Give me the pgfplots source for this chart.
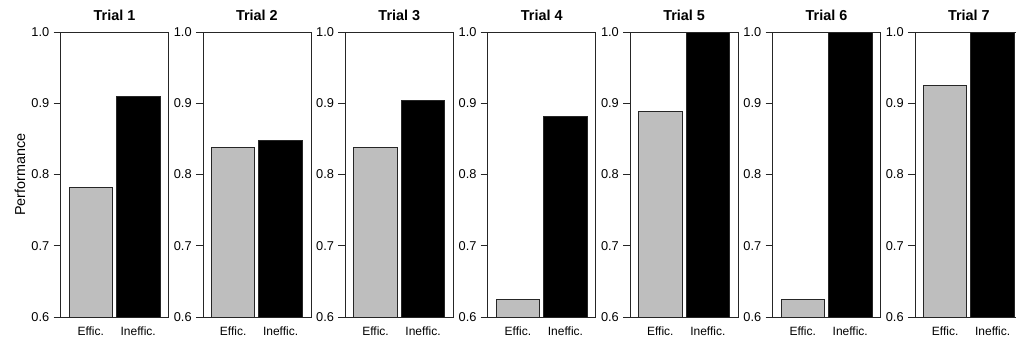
\documentclass[border=0pt]{standalone}
\usepackage{pgfplots}
\pgfplotsset{compat=1.18}
\usepackage{fontspec}
\setmainfont{Liberation Sans}
\definecolor{barGray}{HTML}{BEBEBE}
\definecolor{lineCol}{HTML}{262626}
\pgfplotsset{
  trial/.style={
    scale only axis, width=81pt, height=213.75pt, anchor=south west,
    xmin=0, xmax=2.483, ymin=0.6, ymax=1.0,
    axis on top,
    axis line style={draw=lineCol, line width=0.6pt},
    ytick={0.6,0.7,0.8,0.9,1.0},
    yticklabels={0.6,0.7,0.8,0.9,1.0},
    ytick pos=left,
    tick align=outside,
    major tick length=5.25pt,
    ytick style={draw=lineCol, line width=0.6pt},
    xtick={0.695,1.787},
    xticklabels={Effic., Ineffic.},
    xtick style={draw=none},
    yticklabel style={font=\fontsize{9.6}{11}\selectfont, inner sep=0pt, xshift=-3.0pt},
    xticklabel style={font=\fontsize{9}{10}\selectfont, inner sep=0pt, anchor=north, yshift=-2.2pt},
    title style={font=\fontsize{10.8}{12}\selectfont\bfseries, at={(0.5,1)}, anchor=base, yshift=2.8pt},
  },
  gbar/.style={ybar, bar width=32.625pt, fill=barGray, draw=lineCol, line width=0.6pt},
  kbar/.style={ybar, bar width=32.625pt, fill=black, draw=lineCol, line width=0.6pt},
}
\begin{document}
\begin{tikzpicture}
\useasboundingbox (0,0) rectangle (762pt,257.25pt);
\clip (0,0) rectangle (762pt,257.25pt);
\node[rotate=90, anchor=base, font=\fontsize{10.8}{12}\selectfont] at (18.75pt,126.4pt) {Performance};

\begin{axis}[trial, at={(45.375pt,19.5pt)}, title={Trial 1}]
\addplot[gbar] coordinates {(0.695,0.782)};
\addplot[kbar] coordinates {(1.787,0.909)};
\end{axis}

\begin{axis}[trial, at={(152.175pt,19.5pt)}, title={Trial 2}]
\addplot[gbar] coordinates {(0.695,0.838)};
\addplot[kbar] coordinates {(1.787,0.848)};
\end{axis}

\begin{axis}[trial, at={(258.975pt,19.5pt)}, title={Trial 3}]
\addplot[gbar] coordinates {(0.695,0.838)};
\addplot[kbar] coordinates {(1.787,0.904)};
\end{axis}

\begin{axis}[trial, at={(365.775pt,19.5pt)}, title={Trial 4}]
\addplot[gbar] coordinates {(0.695,0.625)};
\addplot[kbar] coordinates {(1.787,0.881)};
\end{axis}

\begin{axis}[trial, at={(472.575pt,19.5pt)}, title={Trial 5}]
\addplot[gbar] coordinates {(0.695,0.888)};
\addplot[kbar] coordinates {(1.787,1.0)};
\end{axis}

\begin{axis}[trial, at={(579.375pt,19.5pt)}, title={Trial 6}]
\addplot[gbar] coordinates {(0.695,0.625)};
\addplot[kbar] coordinates {(1.787,1.0)};
\end{axis}

\begin{axis}[trial, at={(686.175pt,19.5pt)}, title={Trial 7}]
\addplot[gbar] coordinates {(0.695,0.925)};
\addplot[kbar] coordinates {(1.787,1.0)};
\end{axis}
\end{tikzpicture}
\end{document}
